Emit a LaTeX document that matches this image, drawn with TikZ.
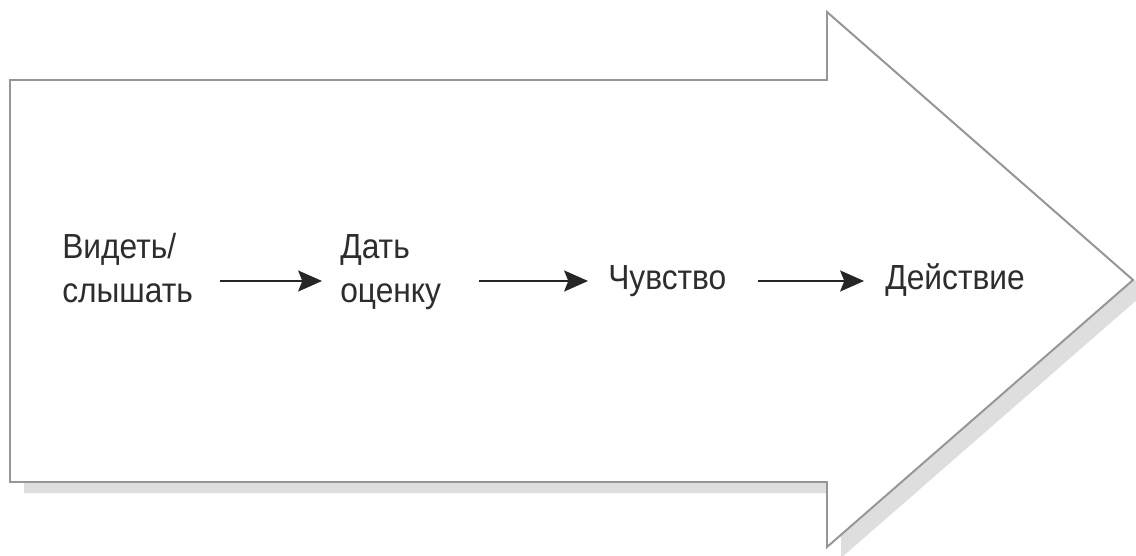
\documentclass[tikz,border=0pt]{standalone}
\usepackage{fontspec}
\setmainfont{Liberation Sans}[FakeStretch=0.91]
\usetikzlibrary{positioning,arrows.meta,calc}
\definecolor{edgeC}{RGB}{150,150,150}
\definecolor{shadeC}{RGB}{222,222,222}
\definecolor{textC}{RGB}{45,45,45}

\begin{document}
\begin{tikzpicture}[x=0.025cm, y=-0.025cm,
  outline/.style={draw=edgeC, line width=1.4pt, line join=miter, fill=white},
  shadow/.style={fill=shadeC, draw=none},
  stage/.style={inner sep=0pt, align=left, text=textC,
                font=\fontsize{24.8}{32}\selectfont},
  flow/.style={-{Stealth[length=17pt, width=15pt, inset=3pt]}, line width=1pt, draw=black!85},
]
\useasboundingbox (0,0) rectangle (1136,556);

% ---------------- big arrow ----------------
\fill[shadow, shift={(14,11)}]
  (10,80) -- (827,80) -- (827,12) -- (1133,280) -- (827,547) -- (827,482) -- (10,482) -- cycle;
\draw[outline]
  (10,80) -- (827,80) -- (827,12) -- (1133,280) -- (827,547) -- (827,482) -- (10,482) -- cycle;

% ---------------- stages ----------------
\node[stage, anchor=base west] (see)  at (62,303)  {Видеть/\\слышать};
\node[stage, anchor=base west] (rate) at (340,303) {Дать\\оценку};
\node[stage, anchor=base west] (feel) at (608,290) {Чувство};
\node[stage, anchor=base west] (act)  at (885,290) {Действие};

\coordinate (row) at (0,281);
\draw[flow, shorten <=0.675cm, shorten >=0.45cm] (see.east |- row) -- (rate.west |- row);
\draw[flow, shorten <=0.95cm, shorten >=0.5cm] (rate.east |- row) -- (feel.west |- row);
\draw[flow, shorten <=0.775cm, shorten >=0.525cm] (feel.east |- row) -- (act.west |- row);

\end{tikzpicture}
\end{document}
